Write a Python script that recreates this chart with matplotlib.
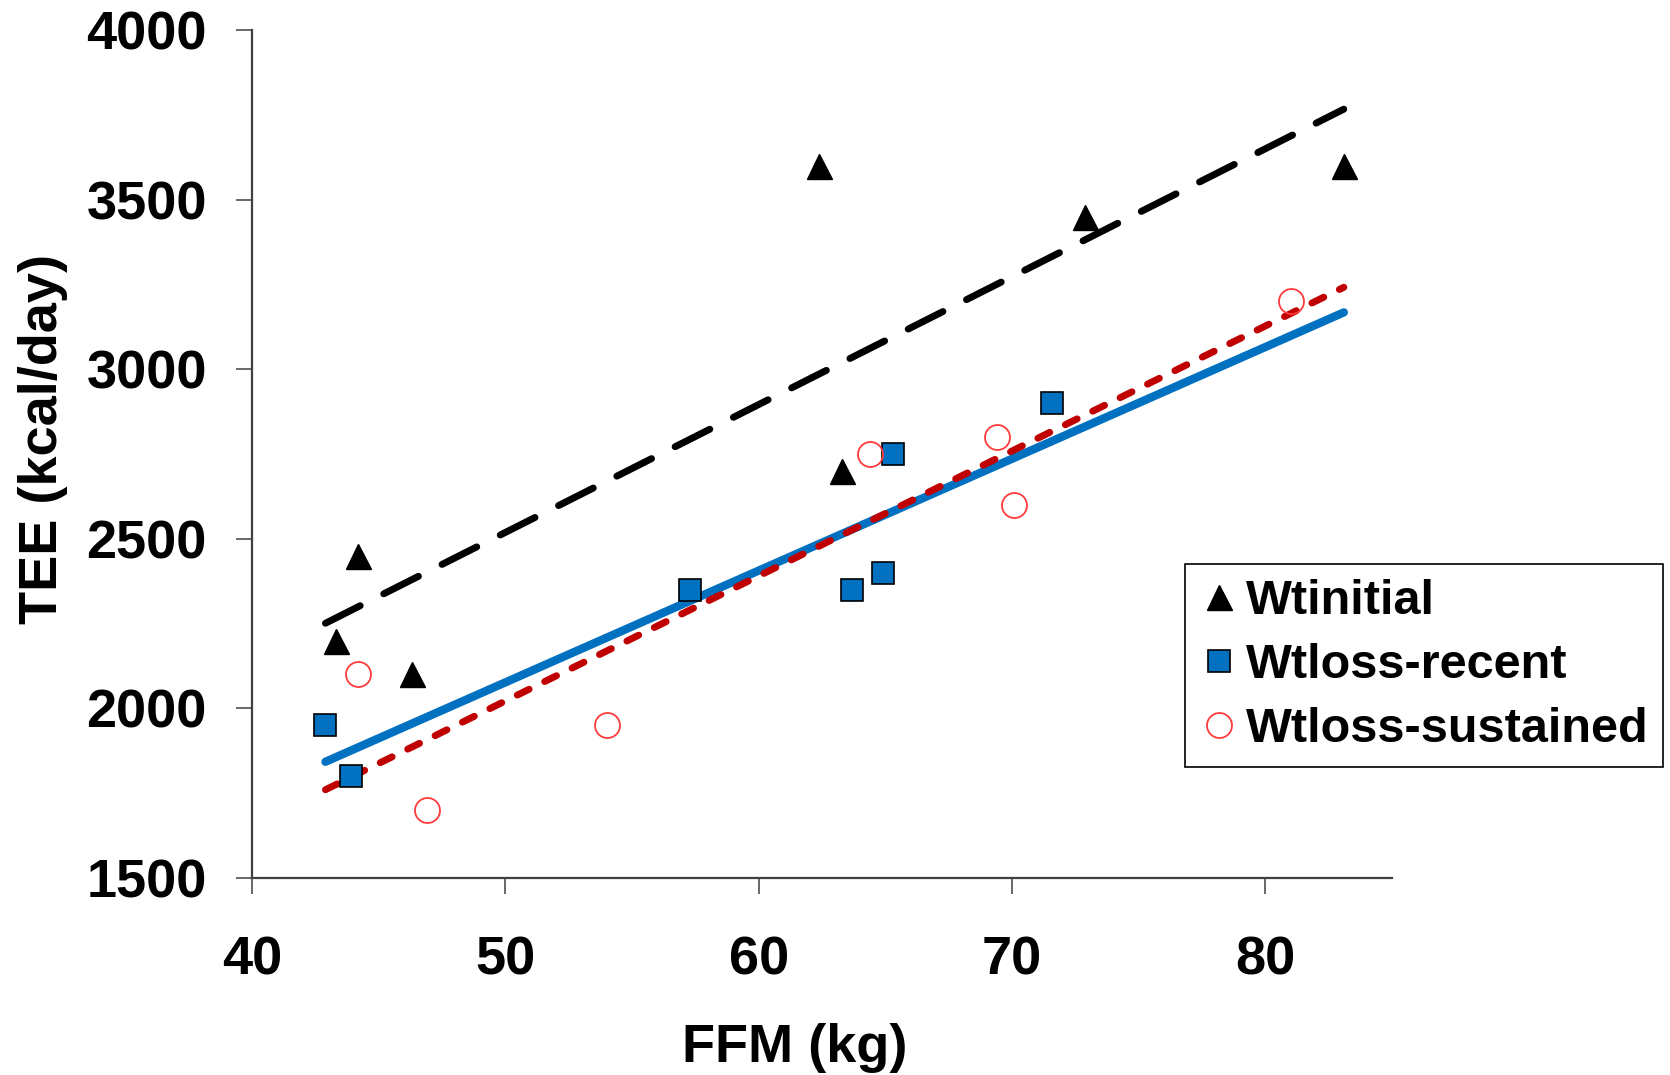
import numpy as np
import matplotlib
matplotlib.use("Agg")
import matplotlib.pyplot as plt

# ── Data ─────────────────────────────────────────────────────────────────
ffm_initial = [43.3, 44.2, 46.3, 62.4, 63.3, 72.9, 83.1]
tee_initial = [2200, 2450, 2100, 3600, 2700, 3450, 3600]

ffm_recent = [42.9, 43.9, 57.3, 63.7, 64.9, 65.3, 71.6]
tee_recent = [1950, 1800, 2350, 2350, 2400, 2750, 2900]

ffm_sustained = [44.2, 46.9, 54.0, 64.4, 69.4, 70.1, 81.0]
tee_sustained = [2100, 1700, 1950, 2750, 2800, 2600, 3200]

labels = ["Wtinitial", "Wtloss-recent", "Wtloss-sustained"]
x_ticks = [40, 50, 60, 70, 80]
y_ticks = [1500, 2000, 2500, 3000, 3500, 4000]

# ── Style ────────────────────────────────────────────────────────────────
plt.rcParams["font.family"] = ["Liberation Sans", "DejaVu Sans"]
plt.rcParams["font.weight"] = "bold"

BLUE = "#0070C0"
RED_LINE = "#C00000"
RED_MARK = "#FF3B3B"
AXIS = "#404040"

fig = plt.figure(figsize=(16.7, 10.75), dpi=100)
ax = fig.add_axes([0.1509, 0.1833, 0.6826, 0.7888])

# trend lines: least-squares fit over the full x range of the data
all_x = ffm_initial + ffm_recent + ffm_sustained
xs = np.array([min(all_x), max(all_x)])


def trend(x, y):
    k, b = np.polyfit(x, y, 1)
    return k * xs + b


ax.plot(xs, trend(ffm_initial, tee_initial), color="black", lw=5,
        dashes=(5.6, 3.8), dash_capstyle="round", zorder=2)
ax.plot(xs, trend(ffm_recent, tee_recent), color=BLUE, lw=6,
        solid_capstyle="round", zorder=2)
ax.plot(xs, trend(ffm_sustained, tee_sustained), color=RED_LINE, lw=5,
        dashes=(1.9, 2.5), dash_capstyle="round", zorder=3)

ax.plot(ffm_initial, tee_initial, ls="none", marker="^", ms=18,
        color="black", mec="black", label=labels[0], zorder=4)
ax.plot(ffm_recent, tee_recent, ls="none", marker="s", ms=16.5,
        color=BLUE, mec="black", mew=1.2, label=labels[1], zorder=4)
ax.plot(ffm_sustained, tee_sustained, ls="none", marker="o", ms=18,
        mfc="none", mec=RED_MARK, mew=1.3, label=labels[2], zorder=4)

ax.set_xlim(40, 85)
ax.set_ylim(1500, 4000)
ax.set_xticks(x_ticks)
ax.set_yticks(y_ticks)

for side in ["top", "right"]:
    ax.spines[side].set_visible(False)
for side in ["left", "bottom"]:
    ax.spines[side].set_color(AXIS)
    ax.spines[side].set_linewidth(1.6)

ax.tick_params(axis="both", direction="out", length=11.5, width=1.1,
               color=AXIS, labelsize=39)
ax.tick_params(axis="x", pad=30)
ax.tick_params(axis="y", pad=21)
for lab in ax.get_xticklabels() + ax.get_yticklabels():
    lab.set_fontweight("bold")

fig.text(43 / 1670, 1 - 439 / 1075, "TEE (kcal/day)", rotation=90,
         ha="center", va="center", fontsize=39, fontweight="bold")
fig.text(795 / 1670, 1 - 1048 / 1075, "FFM (kg)",
         ha="center", va="center", fontsize=39, fontweight="bold")

leg = ax.legend(loc="upper left", bbox_to_anchor=(1185 / 1670, 1 - 564 / 1075),
                bbox_transform=fig.transFigure, fontsize=35, numpoints=1,
                handlelength=0.8, handletextpad=0.16, borderpad=0.3,
                labelspacing=0.4, borderaxespad=0, fancybox=False,
                framealpha=1, edgecolor="black")
leg.get_frame().set_linewidth(1.2)
for t in leg.get_texts():
    t.set_fontweight("bold")

fig.savefig("out.png", dpi=100)
